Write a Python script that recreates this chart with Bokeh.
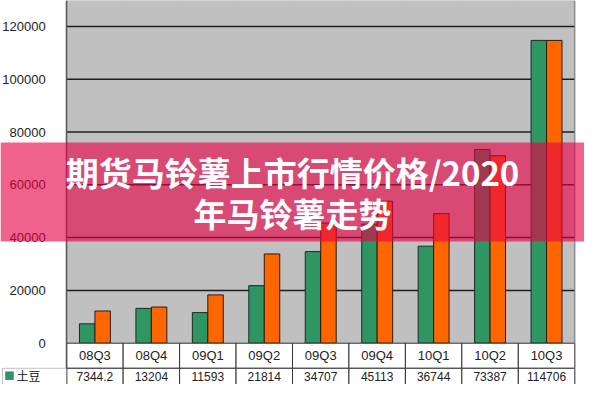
from bokeh.plotting import figure
from bokeh.models import (ColumnDataSource, Range1d, FactorRange, BoxAnnotation,
                          Label, Span, FixedTicker, PrintfTickFormatter)
from bokeh.transform import dodge
from bokeh.core.properties import value
from bokeh.embed import file_html
from bokeh.resources import INLINE

# data
quarters = ["08Q3", "08Q4", "09Q1", "09Q2", "09Q3", "09Q4", "10Q1", "10Q2", "10Q3"]
potato = [7344.2, 13204, 11593, 21814, 34707, 45113, 36744, 73387, 114706]
potato_text = ["7344.2", "13204", "11593", "21814", "34707", "45113", "36744", "73387", "114706"]
other = [12200, 13700, 18300, 33800, 45500, 53800, 49100, 71000, 114700]
y_ticks = [0, 20000, 40000, 60000, 80000, 100000, 120000]
series_name = "土豆"
title_lines = ["期货马铃薯上市行情价格/2020", "年马铃薯走势"]

GREEN = "#2F9663"
ORANGE = "#FF6600"
GREY = "#C0C0C0"
TOP = 129820
ROW1 = -9500     # bottom of the category row of the table
ROW2 = -20000

src = ColumnDataSource(dict(q=quarters, potato=potato, other=other, label=potato_text))

# one blank factor in front holds the axis labels and the legend cell
xr = FactorRange(factors=[" "] + quarters, range_padding=0.1727, range_padding_units="absolute")
p = figure(x_range=xr, y_range=Range1d(-15640, TOP),
           width=584, height=384, output_backend="svg", toolbar_location=None,
           min_border_left=0, min_border_right=0, min_border_top=0, min_border_bottom=0)
p.background_fill_color = "white"
p.border_fill_color = "white"
p.outline_line_color = None
p.xaxis.visible = False
p.grid.visible = False

# grey plot area, one tile per quarter
p.vbar(x="q", bottom=0, top=TOP, width=1, source=src, fill_color=GREY, line_color=GREY)
# horizontal grid lines across the quarters
p.segment(x0=1.0, x1=10.0, y0=y_ticks[1:], y1=y_ticks[1:], line_color="#1e1e1e", line_width=1.5)

ax = p.yaxis[0]
ax.fixed_location = 1.0
ax.ticker = FixedTicker(ticks=y_ticks)
ax.formatter = PrintfTickFormatter(format="%d")
ax.major_tick_line_color = None
ax.minor_tick_line_color = None
ax.axis_line_color = "#555555"
ax.axis_line_width = 1.5
ax.major_label_text_font = "Liberation Sans"
ax.major_label_text_font_size = "13px"
ax.major_label_text_color = "#222222"
ax.major_label_standoff = 15
p.add_layout(Span(location=10.0, dimension="height", line_color="#777777", line_width=1))

# bars
p.vbar(x=dodge("q", -0.137, range=p.x_range), top="potato", width=0.274, source=src,
       fill_color=GREEN, line_color="#1b2b20", line_width=1)
p.vbar(x=dodge("q", 0.137, range=p.x_range), top="other", width=0.274, source=src,
       fill_color=ORANGE, line_color="#2b1b10", line_width=1)

# data table under the chart
p.vbar(x="q", top=0, bottom=ROW1, width=1, source=src,
       fill_color="white", line_color="#333333", line_width=1)
p.vbar(x="q", top=ROW1, bottom=ROW2, width=1, source=src,
       fill_color="white", line_color="#333333", line_width=1)
p.text(x="q", y=-4650, text="q", source=src, text_align="center", text_baseline="middle",
       text_font=value("Liberation Sans"), text_font_size="13px", text_color="#222222")
p.text(x="q", y=-12600, text="label", source=src, text_align="center", text_baseline="middle",
       text_font=value("Liberation Sans"), text_font_size="12px", text_color="#222222")

p.add_layout(BoxAnnotation(left=2, right=66, left_units="canvas", right_units="canvas",
                           top=ROW1, bottom=ROW2, fill_color="white", fill_alpha=1,
                           line_color="#333333", line_width=1))
p.add_layout(BoxAnnotation(left=5, right=13, left_units="canvas", right_units="canvas",
                           top=-10800, bottom=-13800, fill_color=GREEN, fill_alpha=1,
                           line_color="#333333", line_width=1))
p.add_layout(Label(x=16, x_units="canvas", y=-12400, text=series_name,
                   text_baseline="middle", text_font="Noto Sans CJK SC",
                   text_font_size="12px", text_color="#111111"))

# translucent banner with the headline
p.add_layout(BoxAnnotation(left=0, right=584, left_units="canvas", right_units="canvas",
                           top=76000, bottom=38500, fill_color="#E70046", fill_alpha=0.62,
                           line_color=None))
for line, yv in zip(title_lines, [64740, 49300]):
    p.add_layout(Label(x=292, x_units="canvas", y=yv, text=line, text_align="center",
                       text_baseline="middle", text_font="Noto Sans CJK SC",
                       text_font_style="bold", text_font_size="33px", text_color="white"))

open("out.html", "w").write(file_html(p, INLINE))
